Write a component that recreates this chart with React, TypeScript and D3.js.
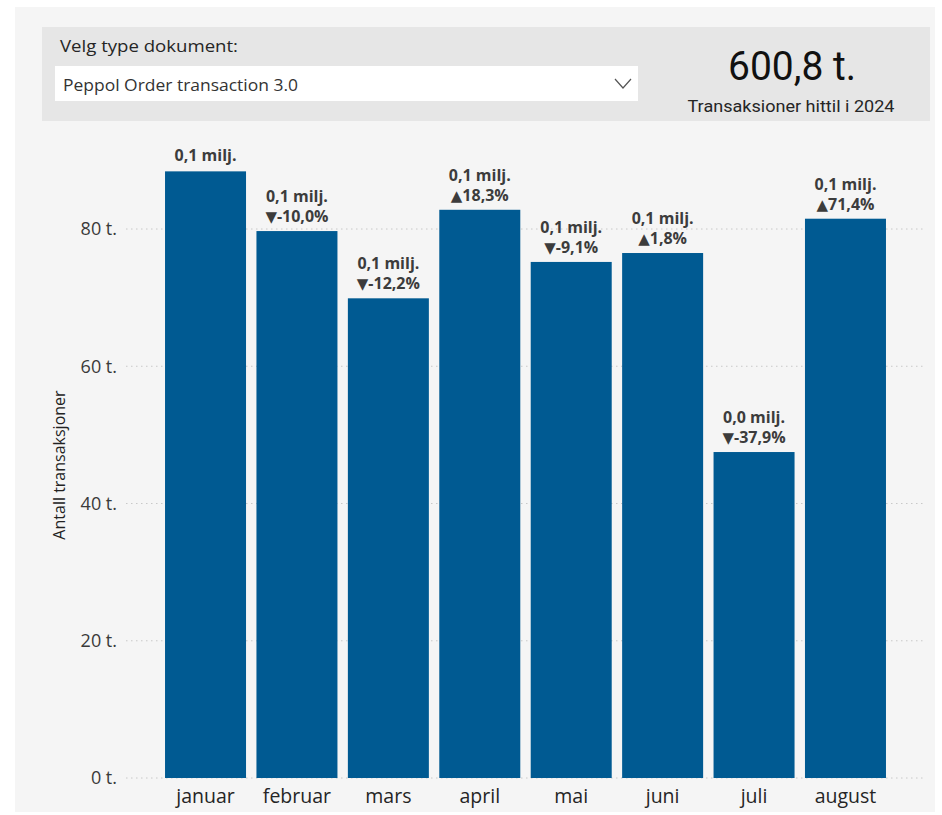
import React from "react";
import * as d3 from "d3";

const months = ["januar", "februar", "mars", "april", "mai", "juni", "juli", "august"];
const values = [88.4, 79.7, 69.9, 82.8, 75.2, 76.5, 47.5, 81.5];
const valueLabels = ["0,1 milj.", "0,1 milj.", "0,1 milj.", "0,1 milj.", "0,1 milj.", "0,1 milj.", "0,0 milj.", "0,1 milj."];
const changeArrows = ["", "▼", "▼", "▲", "▼", "▲", "▼", "▲"];
const changeLabels = ["", "-10,0%", "-12,2%", "18,3%", "-9,1%", "1,8%", "-37,9%", "71,4%"];
const yTicks = [0, 20, 40, 60, 80];
const slicerTitle = "Velg type dokument:";
const slicerValue = "Peppol Order transaction 3.0";
const kpiValue = "600,8 t.";
const kpiLabel = "Transaksioner hittil i 2024";
const yTitle = "Antall transaksjoner";

const W = 942;
const H = 815;
const BAR = "#005a92";
const UI = "'Open Sans', 'Noto Sans', sans-serif";
const NARROW = "'Roboto', sans-serif";

export default function App() {
  const x = d3.scaleBand<string>().domain(months).range([160, 891]).paddingInner(0.114).paddingOuter(0.055);
  const y = d3.scaleLinear().domain([0, 20]).range([778, 640.75]);

  return (
    <div style={{ position: "absolute", left: 0, top: 0, width: W, height: H }}>
      <svg width={W} height={H} style={{ display: "block" }}>
        <rect x={0} y={0} width={W} height={H} fill="#ffffff" />
        <rect x={15} y={7} width={920} height={805} fill="#f5f5f5" />
        {/* header panel */}
        <rect x={42} y={27} width={888} height={94} fill="#e6e6e6" />
        <text x={60} y={52} fontFamily={UI} fontSize={17} fill="#252525" textLength={178} lengthAdjust="spacingAndGlyphs">{slicerTitle}</text>
        <rect x={55} y={66} width={583} height={35} fill="#ffffff" />
        <text x={63} y={91} fontFamily={UI} fontSize={17} fill="#333333" textLength={235} lengthAdjust="spacingAndGlyphs">{slicerValue}</text>
        <path d="M615,79 L623,88 L631,79" fill="none" stroke="#555" strokeWidth={1.2} />
        <text x={792} y={80} textAnchor="middle" fontFamily={NARROW} fontSize={40} fill="#111" textLength={128} lengthAdjust="spacingAndGlyphs">{kpiValue}</text>
        <text x={791} y={112} textAnchor="middle" fontFamily={NARROW} fontSize={17} fill="#252525" textLength={207} lengthAdjust="spacingAndGlyphs">{kpiLabel}</text>

        {/* gridlines */}
        {yTicks.map((t) => (
          <g key={t}>
            <line x1={126} x2={925} y1={y(t)} y2={y(t)} stroke="#c8c8c8" strokeWidth={1} strokeDasharray="1.5 3.5" />
            <text x={117} y={y(t)} dy="0.35em" textAnchor="end" fontFamily={UI} fontSize={18} fill="#3a3a3a">{`${t} t.`}</text>
          </g>
        ))}

        <text transform={`translate(65,465) rotate(-90)`} textAnchor="middle" fontFamily={UI} fontSize={16} fill="#222">{yTitle}</text>

        {/* bars */}
        {months.map((m, i) => {
          const bx = x(m) as number;
          const by = y(values[i]);
          const cx = bx + x.bandwidth() / 2;
          const two = changeLabels[i] !== "";
          return (
            <g key={m}>
              <rect x={bx} y={by} width={x.bandwidth()} height={y(0) - by} fill={BAR} />
              <text x={cx} y={two ? by - 29 : by - 10} textAnchor="middle" fontFamily={UI} fontWeight={700} fontSize={16} fill="#3c3c3c">{valueLabels[i]}</text>
              {two && (
                <text x={cx} y={by - 9} textAnchor="middle" fontFamily={UI} fontWeight={700} fontSize={16} fill="#3c3c3c">
                  <tspan fontFamily="'DejaVu Sans', sans-serif" fontSize={15}>{changeArrows[i]}</tspan>
                  <tspan>{changeLabels[i]}</tspan>
                </text>
              )}
              <text x={cx} y={803} textAnchor="middle" fontFamily={UI} fontSize={19.5} fill="#252525">{m}</text>
            </g>
          );
        })}
      </svg>
    </div>
  );
}
